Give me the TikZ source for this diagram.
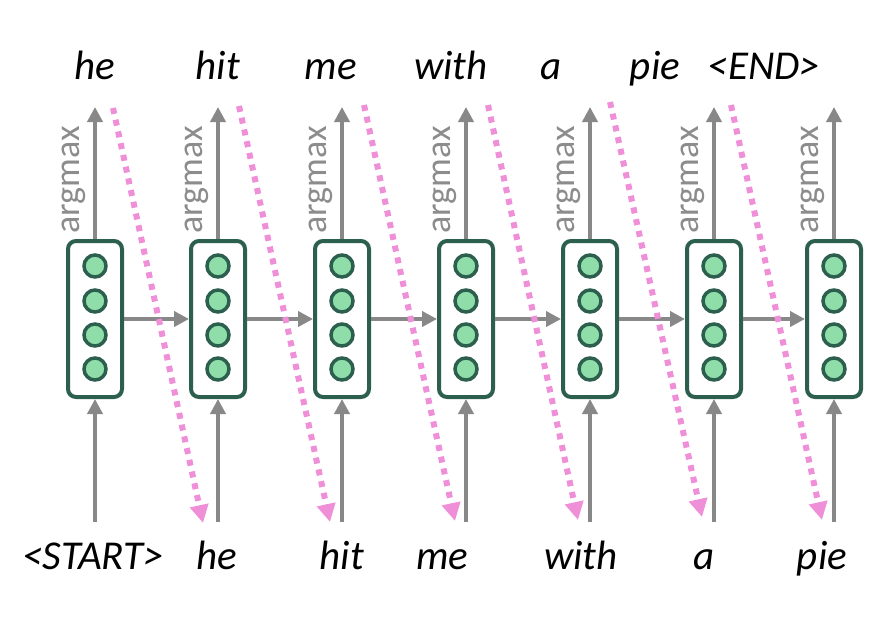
\documentclass[tikz,border=0pt]{standalone}
\usepackage{fontspec}
\setmainfont{Carlito}
\usetikzlibrary{arrows.meta}
\definecolor{cellgreen}{HTML}{2D5F4F}
\definecolor{dotfill}{HTML}{8FDDA8}
\definecolor{arrgray}{HTML}{888888}
\definecolor{txtgray}{HTML}{8C8C8C}
\definecolor{pinkdot}{HTML}{EE8FD8}
\tikzset{
  cellbox/.style={draw=cellgreen, line width=4pt, rounded corners=8pt, minimum width=54pt, minimum height=156pt, inner sep=0pt, fill=white},
  unit/.style={circle, draw=cellgreen, fill=dotfill, line width=3.5pt, minimum size=22pt, inner sep=0pt},
  word/.style={font=\fontsize{41}{48}\selectfont\itshape, anchor=base, inner sep=0pt},
  amax/.style={font=\fontsize{36}{40}\selectfont, text=txtgray, rotate=90, inner sep=0pt},
  grayarrow/.style={draw=arrgray, line width=4pt, -{Triangle[length=15pt,width=15pt]}},
  pinkarrow/.style={draw=pinkdot, line width=6pt, dash pattern=on 6pt off 6pt, -{Triangle[length=18pt,width=18pt]}}
}
\begin{document}
\begin{tikzpicture}[x=1pt,y=-1pt]
\useasboundingbox (0,0) rectangle (880,624);
% cells
\foreach \i/\cx in {1/95,2/218,3/342,4/466,5/590,6/714,7/834}{
  \node[cellbox] (c\i) at (\cx,319) {};
  \node[unit] (c\i u1) at (\cx,266) {};
  \node[unit] (c\i u2) at (\cx,301) {};
  \node[unit] (c\i u3) at (\cx,335) {};
  \node[unit] (c\i u4) at (\cx,369) {};
  \coordinate (up\i) at (\cx,107);
  \coordinate (dn\i) at (\cx,522);
  \node[amax] (am\i) at (\cx-21,180) {argmax};
  \draw[grayarrow] (c\i.north) -- (up\i);
  \draw[grayarrow] (dn\i) -- (c\i.south);
}
% recurrent arrows
\foreach \i/\j in {1/2,2/3,3/4,4/5,5/6,6/7}{
  \draw[grayarrow] (c\i.east |- 0,319) -- (c\j.west |- 0,319);
}
% top words
\node[word] (t1) at (95,79) {he};
\node[word] (t2) at (218,79) {hit};
\node[word] (t3) at (331,79) {me};
\node[word] (t4) at (451,79) {with};
\node[word] (t5) at (551,79) {a};
\node[word] (t6) at (655,79) {pie};
\node[word] (t7) at (764,79) {<END>};
% bottom words
\node[word] (b1) at (93,569) {<START>};
\node[word] (b2) at (217,569) {he};
\node[word] (b3) at (342,569) {hit};
\node[word] (b4) at (442,569) {me};
\node[word] (b5) at (581,569) {with};
\node[word] (b6) at (704,569) {a};
\node[word] (b7) at (822,569) {pie};
% pink feedback arrows
\foreach \i/\sx/\sy/\ex/\ey in {1/113/108/203/523,2/239/106/330/522,3/364/105/455/521,4/488/105/578/520,5/610/102/702/517,6/731/105/822/520}{
  \coordinate (ps\i) at (\sx,\sy);
  \coordinate (pe\i) at (\ex,\ey);
  \draw[pinkarrow] (ps\i) -- (pe\i);
}
\end{tikzpicture}
\end{document}
